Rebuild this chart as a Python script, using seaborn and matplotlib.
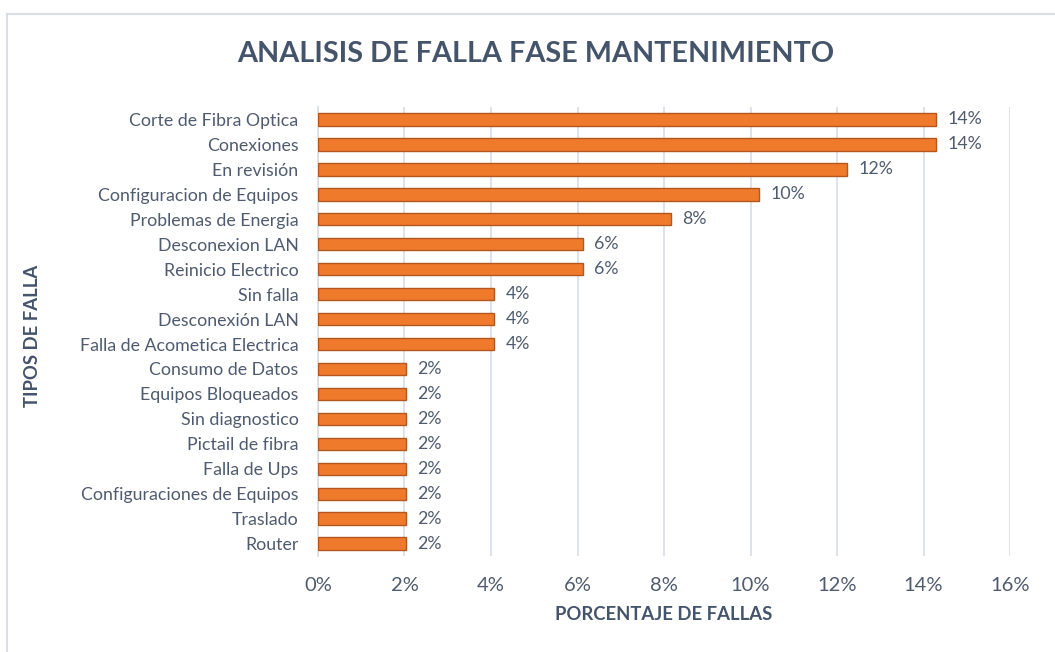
import numpy as np
import pandas as pd
import matplotlib.pyplot as plt
import seaborn as sns
from matplotlib.patches import Rectangle

# Fault types and share of faults (%)
tipos = [
    "Corte de Fibra Optica", "Conexiones", "En revisión", "Configuracion de Equipos",
    "Problemas de Energia", "Desconexion LAN", "Reinicio Electrico", "Sin falla",
    "Desconexión LAN", "Falla de Acometica Electrica", "Consumo de Datos",
    "Equipos Bloqueados", "Sin diagnostico", "Pictail de fibra", "Falla de Ups",
    "Configuraciones de Equipos", "Traslado", "Router",
]
porcentaje = [14.29, 14.29, 12.24, 10.20, 8.16, 6.12, 6.12, 4.08, 4.08, 4.08,
              2.04, 2.04, 2.04, 2.04, 2.04, 2.04, 2.04, 2.04]
etiquetas = ["14%", "14%", "12%", "10%", "8%", "6%", "6%", "4%", "4%", "4%",
             "2%", "2%", "2%", "2%", "2%", "2%", "2%", "2%"]
x_ticks = [0, 2, 4, 6, 8, 10, 12, 14, 16]

df = pd.DataFrame({"Tipo": tipos, "Porcentaje": porcentaje})

sns.set_style("white")
plt.rcParams["font.family"] = ["Lato", "DejaVu Sans"]
txt = "#44546A"
txt_light = "#4F5B6E"

fig = plt.figure(figsize=(10.55, 6.52), dpi=100)
ax = fig.add_axes([0.3014, 0.147, 0.656, 0.689])

sns.barplot(data=df, x="Porcentaje", y="Tipo", orient="h", color="#F07A2C",
            saturation=1, edgecolor="#B35720", linewidth=1.0, width=0.5,
            ax=ax, zorder=3)

for i, (v, lab) in enumerate(zip(porcentaje, etiquetas)):
    ax.annotate(lab, (v, i), xytext=(8, 0), textcoords="offset points",
                va="center", ha="left", fontsize=12.8, color=txt_light)

ax.set_xlim(0, 16)
ax.set_ylim(17.5, -0.5)
ax.set_xticks(x_ticks)
ax.set_xticklabels([f"{t}%" for t in x_ticks], fontsize=14.5, color=txt_light)
ax.tick_params(axis="y", labelsize=12.8, labelcolor=txt_light, length=0, pad=14)
ax.tick_params(axis="x", length=0, pad=15)
ax.grid(axis="x", color="#D9DDE6", linewidth=1.2, zorder=0)
for s in ["top", "right", "bottom"]:
    ax.spines[s].set_visible(False)
ax.spines["left"].set_color("#D9DDE6")
ax.spines["left"].set_linewidth(1.2)

ax.set_xlabel("PORCENTAJE DE FALLAS", fontsize=13.3, fontweight="bold", color=txt, labelpad=9)
ax.set_ylabel("TIPOS DE FALLA", fontsize=13.3, fontweight="bold", color=txt)
ax.yaxis.set_label_coords(-0.40, 0.49)

fig.suptitle("ANALISIS DE FALLA FASE MANTENIMIENTO", fontsize=20.7, fontweight="bold",
             color=txt, x=0.508, y=0.937)

# chart frame
fig.patches.append(Rectangle((7 / 1055, -0.1), 1.2, 1 - 14 / 652 + 0.1,
                             transform=fig.transFigure, fill=False,
                             edgecolor="#D9DDE6", linewidth=1.5))

fig.savefig("out.png", dpi=100)
